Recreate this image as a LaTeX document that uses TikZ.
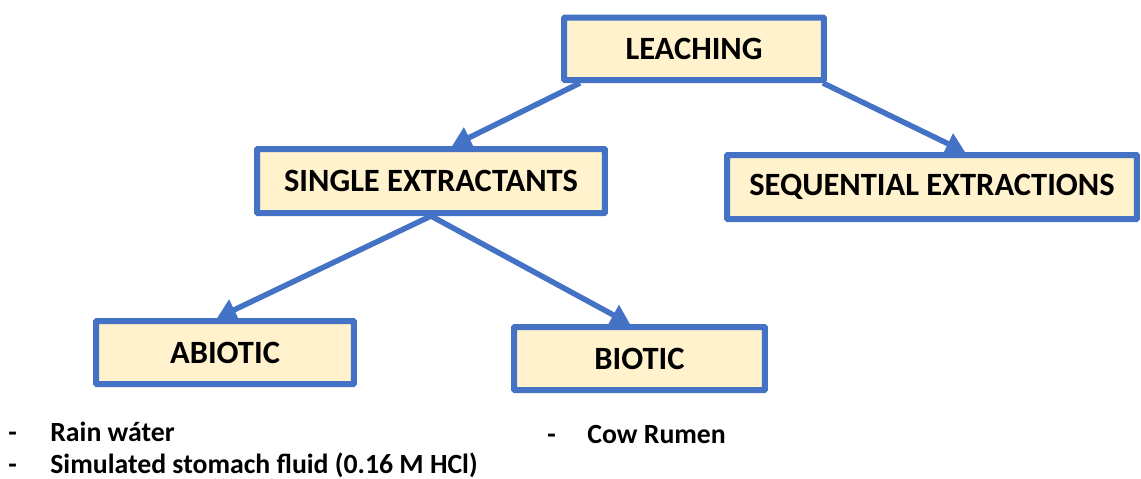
\documentclass[tikz,border=0pt]{standalone}
\usepackage{fontspec}
\setmainfont{Carlito}
\usetikzlibrary{arrows.meta,calc}
\definecolor{leachblue}{RGB}{68,114,196}
\definecolor{leachcream}{RGB}{255,242,204}
\tikzset{
  stagebox/.style={draw=leachblue,fill=leachcream,line width=0.12cm,inner sep=0pt,
    rounded corners=0.5pt,font=\fontsize{18.5}{22}\selectfont\bfseries},
  flow/.style={draw=leachblue,line width=0.11cm,-{Triangle[length=0.38cm,width=0.44cm]}},
  itemtxt/.style={anchor=base west,inner sep=0pt,font=\fontsize{15.8}{18}\selectfont\bfseries}
}
\begin{document}
\begin{tikzpicture}[x=0.02cm,y=-0.02cm]
  \useasboundingbox (0,0) rectangle (1141,478);
  % boxes, one unit = one pixel of the scheme
  \node[stagebox,minimum width=5.2cm,minimum height=1.25cm] (leach) at (694,48.75) {LEACHING};
  \node[stagebox,minimum width=6.96cm,minimum height=1.28cm] (single) at (431,181) {SINGLE EXTRACTANTS};
  \node[stagebox,minimum width=8.2cm,minimum height=1.28cm] (seq) at (932,187) {SEQUENTIAL EXTRACTIONS};
  \node[stagebox,minimum width=5.16cm,minimum height=1.26cm] (abiotic) at (225,352.5) {ABIOTIC};
  \node[stagebox,minimum width=5.02cm,minimum height=1.26cm] (biotic) at (639.5,358.5) {BIOTIC};
  % connectors
  \draw[flow] ($(leach.south west)+(19,0)$) -- ($(single.north west)+(198,0)$);
  \draw[flow] ($(leach.south east)+(-4,0)$) -- ($(seq.north west)+(241,0)$);
  \draw[flow] (single.south) -- ($(abiotic.north west)+(124,0)$);
  \draw[flow] (single.south) -- ($(biotic.north west)+(119,0)$);
  % lists under the boxes
  \node[itemtxt] (dasha) at (8,441) {-};
  \node[itemtxt] (rain) at (50,441) {Rain wáter};
  \node[itemtxt] (dashb) at (8,473) {-};
  \node[itemtxt] (stomach) at (50,473) {Simulated stomach fluid (0.16 M HCl)};
  \node[itemtxt] (dashc) at (547,443) {-};
  \node[itemtxt] (rumen) at (587,443) {Cow Rumen};
\end{tikzpicture}
\end{document}
